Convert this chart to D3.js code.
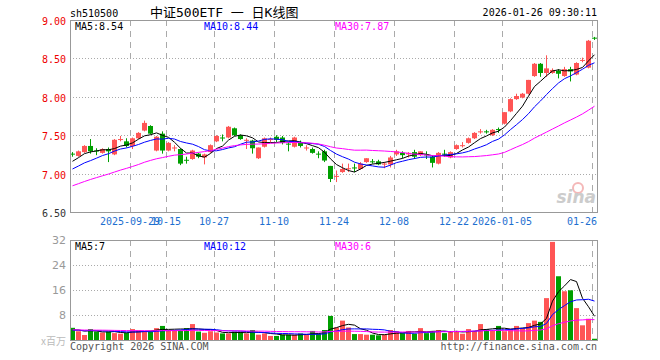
<!DOCTYPE html>
<html>
<head>
<meta charset="utf-8">
<script src="https://cdn.jsdelivr.net/npm/d3@7"></script>
<style>
body{margin:0;background:#fff}
text{font-family:"DejaVu Sans Mono","Liberation Mono",monospace}
</style>
</head>
<body>
<div id="chart"></div>
<script>
// trading days shown
var dates = ["2025-09-15","2025-09-16","2025-09-17","2025-09-18","2025-09-19","2025-09-22","2025-09-23","2025-09-24","2025-09-25","2025-09-26","2025-09-29","2025-09-30",
"2025-10-09","2025-10-10","2025-10-13","2025-10-14","2025-10-15","2025-10-16","2025-10-17","2025-10-20","2025-10-21","2025-10-22","2025-10-23","2025-10-24","2025-10-27","2025-10-28","2025-10-29","2025-10-30","2025-10-31",
"2025-11-03","2025-11-04","2025-11-05","2025-11-06","2025-11-07","2025-11-10","2025-11-11","2025-11-12","2025-11-13","2025-11-14","2025-11-17","2025-11-18","2025-11-19","2025-11-20","2025-11-21","2025-11-24","2025-11-25","2025-11-26","2025-11-27","2025-11-28",
"2025-12-01","2025-12-02","2025-12-03","2025-12-04","2025-12-05","2025-12-08","2025-12-09","2025-12-10","2025-12-11","2025-12-12","2025-12-15","2025-12-16","2025-12-17","2025-12-18","2025-12-19","2025-12-22","2025-12-23","2025-12-24","2025-12-25","2025-12-26","2025-12-29","2025-12-30","2025-12-31",
"2026-01-05","2026-01-06","2026-01-07","2026-01-08","2026-01-09","2026-01-12","2026-01-13","2026-01-14","2026-01-15","2026-01-16","2026-01-19","2026-01-20","2026-01-21","2026-01-22","2026-01-23","2026-01-26"];

var open  = [7.26,7.23,7.28,7.36,7.30,7.27,7.32,7.25,7.44,7.42, 7.36,7.46,7.56,7.62,7.30,7.52,7.30,7.33,7.32,7.18, 7.19,7.26,7.21,7.28,7.42,7.47,7.47,7.59,7.50,7.43,
             7.43,7.20,7.35,7.44,7.48,7.47,7.39,7.35,7.41,7.33, 7.32,7.26,7.29,7.10,6.96,7.02,7.06,7.08,7.06,7.15, 7.16,7.16,7.12,7.12,7.25,7.27,7.25,7.28,7.24,7.25,
             7.22,7.13,7.26,7.21,7.32,7.36,7.40,7.46,7.55,7.55, 7.50,7.58,7.65,7.81,7.97,7.99,8.04,8.27,8.43,8.31, 8.31,8.34,8.27,8.36,8.29,8.47,8.38,8.77];
var high  = [7.28,7.30,7.37,7.45,7.33,7.33,7.34,7.45,7.49,7.46, 7.47,7.54,7.69,7.63,7.49,7.55,7.41,7.37,7.33,7.22, 7.31,7.27,7.26,7.38,7.50,7.51,7.62,7.60,7.51,7.46,
             7.44,7.34,7.47,7.47,7.50,7.49,7.41,7.48,7.43,7.37, 7.34,7.29,7.31,7.10,7.04,7.13,7.13,7.13,7.15,7.20, 7.19,7.18,7.15,7.23,7.31,7.29,7.28,7.31,7.29,7.29,
             7.23,7.28,7.31,7.29,7.38,7.41,7.47,7.54,7.58,7.57, 7.58,7.60,7.80,7.98,8.04,8.05,8.22,8.44,8.44,8.54, 8.37,8.36,8.39,8.39,8.45,8.51,8.74,8.78];
var low   = [7.22,7.22,7.27,7.26,7.24,7.26,7.15,7.24,7.42,7.34, 7.32,7.45,7.55,7.51,7.29,7.26,7.29,7.29,7.11,7.13, 7.18,7.20,7.12,7.27,7.41,7.42,7.46,7.49,7.44,7.32,
             7.26,7.19,7.34,7.41,7.41,7.38,7.29,7.34,7.34,7.30, 7.26,7.20,7.15,6.89,6.89,7.01,7.02,7.02,7.05,7.14, 7.13,7.11,7.07,7.08,7.23,7.20,7.21,7.19,7.23,7.19,
             7.08,7.12,7.22,7.20,7.31,7.34,7.39,7.45,7.52,7.52, 7.49,7.53,7.64,7.80,7.96,7.98,8.03,8.26,8.26,8.26, 8.30,8.24,8.26,8.20,8.28,8.45,8.37,8.74];
var close = [7.25,7.29,7.36,7.29,7.29,7.32,7.29,7.44,7.45,7.36, 7.46,7.53,7.66,7.52,7.48,7.30,7.40,7.34,7.13,7.17, 7.30,7.22,7.25,7.37,7.49,7.46,7.61,7.50,7.45,7.44,
             7.33,7.34,7.46,7.45,7.44,7.40,7.38,7.47,7.36,7.34, 7.27,7.25,7.17,6.93,6.97,7.06,7.07,7.07,7.13,7.20, 7.15,7.12,7.13,7.21,7.29,7.24,7.27,7.22,7.29,7.24,
             7.14,7.27,7.25,7.28,7.37,7.37,7.46,7.53,7.55,7.54, 7.57,7.57,7.80,7.97,8.01,8.04,8.22,8.43,8.31,8.37, 8.35,8.30,8.36,8.33,8.44,8.48,8.73,8.76];
// volume, millions
var volume = [3.9,2.8,1.6,3.5,2.7,2.4,2.7,2.2,2.0,2.3, 3.5,3.1,2.7,2.8,3.8,4.5,3.2,3.0,3.1,3.8, 5.1,2.7,2.3,2.8,2.4,2.1,2.1,2.7,2.7,2.1,
              3.2,1.7,2.1,1.3,1.3,1.7,1.7,1.7,2.1,1.6, 2.9,2.0,3.2,7.7,4.0,6.2,4.0,1.9,1.9,1.7, 1.7,1.5,1.7,3.2,2.8,2.2,2.9,2.0,3.8,2.2,
              2.9,3.2,2.2,2.7,2.9,2.0,3.5,2.8,5.1,3.5, 3.0,4.5,2.8,3.6,4.5,3.8,5.4,6.2,5.8,13.4, 31.4,20.4,15.6,15.9,10.2,4.7,6.8,0.4];
// history before the first day, only used for the moving averages
var priorClose = [6.46,6.51,6.50,6.57,6.61,6.60,6.66,6.69,6.68,6.73,6.76,6.77,6.81,6.84,6.83,6.89,6.90,6.93,6.94,6.96,
                  6.90,6.95,7.00,6.97,6.98,7.05,7.10,7.18,7.22];
var priorVol = [3.4,3.1,3.6,3.2,3.0,3.5,3.3,2.9,3.4,3.6,3.2,3.0,3.5,3.8,3.1,3.3,3.6,2.9,3.2,3.4,3.0,3.3,3.1,2.8,3.2,3.0,3.3,2.9,3.1];

var priceTicks = [9.00, 8.50, 8.00, 7.50, 7.00, 6.50];
var volTicks = [32, 24, 16, 8];
var tickDates = ["2025-09-29","2025-10-15","2025-10-27","2025-11-10","2025-11-24","2025-12-08","2025-12-22","2026-01-05","2026-01-26"];
var tickLabels = ["2025-09-29","10-15","10-27","11-10","11-24","12-08","12-22","2026-01-05","01-26"];

var width = 660, height = 360;
var left = 70, right = 598;
var RED = "#ff5555", GREEN = "#009f00";

var svg = d3.select("#chart").append("svg").attr("width", width).attr("height", height);

var x = d3.scaleBand().domain(dates).range([left, right]).padding(0);
var y = d3.scaleLinear().domain([6.5, 9.0]).range([212, 20]);
var yv = d3.scaleLinear().domain([0, 32]).range([340, 240]);

function movAvg(prior, vals, n) {
  var all = prior.concat(vals), off = prior.length;
  return vals.map(function(v, i) { return d3.mean(all.slice(off + i - n + 1, off + i + 1)); });
}
var pma = [[5, "#000"], [10, "#0000ff"], [30, "#ff00ff"]].map(function(m) { return {n: m[0], c: m[1], v: movAvg(priorClose, close, m[0])}; });
var vma = [[5, "#000"], [10, "#0000ff"], [30, "#ff00ff"]].map(function(m) { return {n: m[0], c: m[1], v: movAvg(priorVol, volume, m[0])}; });

var cx = function(i) { return x(dates[i]) + 2.5; };

// header
svg.append("text").attr("x", 70).attr("y", 17).attr("font-size", 10).text("sh510500");
svg.append("text").attr("x", 150).attr("y", 17).attr("font-size", 13)
  .style("font-family", '"DejaVu Sans Mono","Noto Sans CJK SC",monospace').text("中证500ETF 一 日K线图");
svg.append("text").attr("x", 597).attr("y", 16).attr("font-size", 10).attr("text-anchor", "end").text("2026-01-26 09:30:11");

// grids
function grids(top, bottom, hvals, yscale) {
  svg.selectAll(null).data(tickDates).enter().append("line")
    .attr("x1", function(d) { return x(d) + 0.5; }).attr("x2", function(d) { return x(d) + 0.5; })
    .attr("y1", top).attr("y2", bottom)
    .attr("stroke", "#aaa").attr("stroke-dasharray", "6,5");
  svg.selectAll(null).data(hvals).enter().append("line")
    .attr("x1", left).attr("x2", right)
    .attr("y1", function(d) { return Math.round(yscale(d)) + 0.5; }).attr("y2", function(d) { return Math.round(yscale(d)) + 0.5; })
    .attr("stroke", "#aaa").attr("stroke-dasharray", "1,2");
}
grids(20, 212, priceTicks.slice(1, 5), y);
grids(240, 340, volTicks.slice(1), yv);

// candles
var g = svg.append("g");
g.selectAll("line.wick").data(dates).enter().append("line").attr("class", "wick")
  .attr("x1", function(d, i) { return cx(i); }).attr("x2", function(d, i) { return cx(i); })
  .attr("y1", function(d, i) { return y(high[i]); }).attr("y2", function(d, i) { return y(low[i]); })
  .attr("stroke", function(d, i) { return close[i] >= open[i] ? RED : GREEN; });
g.selectAll("rect.body").data(dates).enter().append("rect").attr("class", "body")
  .attr("x", function(d) { return x(d); }).attr("width", 5)
  .attr("y", function(d, i) { return y(Math.max(open[i], close[i])); })
  .attr("height", function(d, i) { return Math.max(1, Math.abs(y(open[i]) - y(close[i]))); })
  .attr("fill", function(d, i) { return close[i] >= open[i] ? RED : GREEN; });

// volume bars
svg.selectAll("rect.vol").data(volume).enter().append("rect").attr("class", "vol")
  .attr("x", function(d, i) { return x(dates[i]); }).attr("width", 5)
  .attr("y", function(d) { return yv(d); }).attr("height", function(d) { return yv(0) - yv(d); })
  .attr("fill", function(d, i) { return close[i] >= open[i] ? RED : GREEN; });

// moving averages
function maLines(list, yscale) {
  list.forEach(function(m) {
    svg.append("path").datum(m.v)
      .attr("d", d3.line().x(function(d, i) { return cx(i); }).y(function(d) { return yscale(d); }))
      .attr("fill", "none").attr("stroke", m.c).attr("stroke-width", 1);
  });
}
maLines(pma, y);
maLines(vma, yv);

// borders
[[20, 212], [240, 340]].forEach(function(b) {
  svg.append("rect").attr("x", 70.5).attr("y", b[0] + 0.5).attr("width", 527).attr("height", b[1] - b[0])
    .attr("fill", "none").attr("stroke", "#999");
});

// axis labels
svg.selectAll(null).data(priceTicks).enter().append("text")
  .attr("x", 66).attr("y", function(d) { return y(d) + 5; }).attr("text-anchor", "end").attr("font-size", 10)
  .attr("fill", function(d) { return d > 6.5 ? "#e00" : "#333"; }).text(function(d) { return d.toFixed(2); });
svg.selectAll(null).data(volTicks).enter().append("text")
  .attr("x", 66).attr("y", function(d) { return yv(d) + 4; }).attr("text-anchor", "end").attr("font-size", 11)
  .style("font-family", "'DejaVu Sans',sans-serif").attr("fill", "#999").text(function(d) { return d; });
svg.append("text").attr("x", 66).attr("y", 345).attr("text-anchor", "end").attr("font-size", 10)
  .style("font-family", "'Noto Sans CJK SC',sans-serif").attr("fill", "#bbb").text("x百万");

svg.selectAll(null).data(tickDates).enter().append("text")
  .attr("x", function(d, i) {
    var w = tickLabels[i].length * 6.02, c = x(d);
    return Math.min(c, 597 - w / 2);
  })
  .attr("y", 225).attr("text-anchor", "middle").attr("font-size", 10).attr("fill", "#1e6fd0")
  .text(function(d, i) { return tickLabels[i]; });

// MA legends
function trunc2(v) { return (Math.floor(v * 100 + 1e-6) / 100).toFixed(2); }
var lx = [75, 204, 335];
pma.forEach(function(m, k) {
  svg.append("text").attr("x", lx[k]).attr("y", 30).attr("font-size", 10).attr("fill", m.c)
    .text("MA" + m.n + ":" + trunc2(m.v[m.v.length - 1]));
});
vma.forEach(function(m, k) {
  svg.append("text").attr("x", lx[k]).attr("y", 250).attr("font-size", 10).attr("fill", m.c)
    .text("MA" + m.n + ":" + Math.floor(m.v[m.v.length - 1]));
});

// footer
svg.append("text").attr("x", 70).attr("y", 350).attr("font-size", 10).attr("fill", "#555").text("Copyright 2026 SINA.COM");
svg.append("text").attr("x", 597).attr("y", 350).attr("font-size", 10).attr("fill", "#555").attr("text-anchor", "end").text("http://finance.sina.com.cn");

// sina watermark
svg.append("circle").attr("cx", 578).attr("cy", 188).attr("r", 5).attr("fill", "none").attr("stroke", "#f4b8b8").attr("stroke-width", 2);
svg.append("text").attr("x", 596).attr("y", 203).attr("text-anchor", "end").attr("font-size", 17)
  .attr("font-weight", "bold").attr("font-style", "italic").style("font-family", "'DejaVu Sans',sans-serif")
  .attr("fill", "#ccc").text("sina");
</script>
</body>
</html>
